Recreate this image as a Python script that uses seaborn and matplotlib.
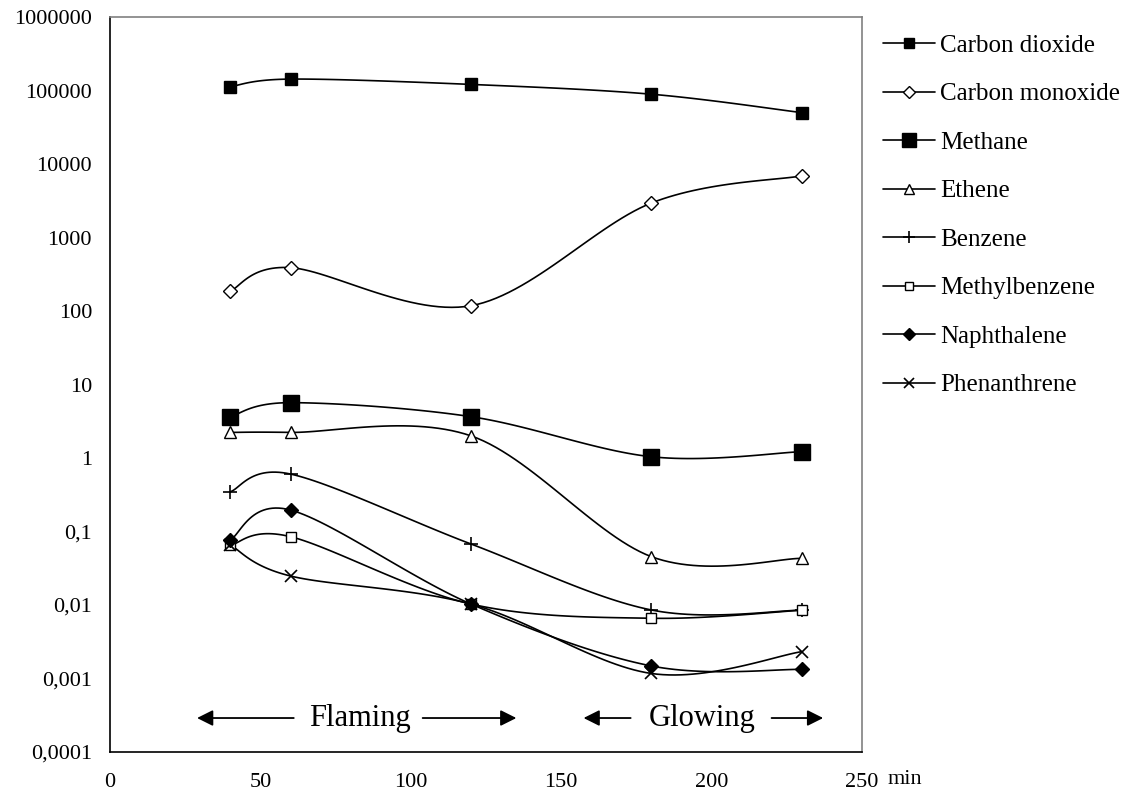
import numpy as np
import pandas as pd
import matplotlib
matplotlib.use('Agg')
import matplotlib.pyplot as plt
from matplotlib.lines import Line2D
from matplotlib.ticker import FixedLocator, FuncFormatter
import seaborn as sns

# 数据：时间 (min) 与各气体浓度
minutes = [40, 60, 120, 180, 230]
carbon_dioxide = [113000, 143000, 121000, 89000, 50000]
carbon_monoxide = [187, 389, 118, 2950, 6900]
methane = [3.65, 5.66, 3.65, 1.04, 1.22]
ethene = [2.23, 2.23, 2.0, 0.0454, 0.0431]
benzene = [0.348, 0.605, 0.0676, 0.00855, 0.0085]
methylbenzene = [0.065, 0.085, 0.0103, 0.0066, 0.0085]
naphthalene = [0.077, 0.196, 0.0103, 0.00148, 0.00133]
phenanthrene = [0.0655, 0.0248, 0.0103, 0.00117, 0.00232]

series_names = ['Carbon dioxide', 'Carbon monoxide', 'Methane', 'Ethene',
                'Benzene', 'Methylbenzene', 'Naphthalene', 'Phenanthrene']
series_values = [carbon_dioxide, carbon_monoxide, methane, ethene,
                 benzene, methylbenzene, naphthalene, phenanthrene]

y_ticks = [1e-4, 1e-3, 1e-2, 1e-1, 1, 10, 100, 1000, 10000, 100000, 1000000]
x_ticks = [0, 50, 100, 150, 200, 250]

# 标记样式 (marker, size, facecolor, edge width)
styles = {
    'Carbon dioxide': ('s', 8, 'black', 1.0),
    'Carbon monoxide': ('D', 7, 'white', 1.0),
    'Methane': ('s', 12, 'black', 1.0),
    'Ethene': ('^', 8, 'white', 1.0),
    'Benzene': ('+', 10, 'black', 1.2),
    'Methylbenzene': ('s', 7, 'white', 1.0),
    'Naphthalene': ('D', 7, 'black', 1.0),
    'Phenanthrene': ('x', 9, 'black', 1.2),
}

sns.set_theme(style='white')
plt.rcParams['font.family'] = ['Liberation Serif', 'DejaVu Serif']
plt.rcParams['text.color'] = 'black'


def smooth_curve(xs, ys, n=30):
    """Excel 风格平滑曲线 (Catmull-Rom, 在 x/log(y) 空间)"""
    px = np.asarray(xs, float)
    py = np.log10(np.asarray(ys, float))
    pts = np.column_stack([px, py])
    pts = np.vstack([pts[0], pts, pts[-1]])
    out = []
    t = np.linspace(0, 1, n)[:, None]
    for i in range(1, len(pts) - 2):
        p0, p1, p2, p3 = pts[i - 1], pts[i], pts[i + 1], pts[i + 2]
        c1 = p1 + (p2 - p0) / 6
        c2 = p2 - (p3 - p1) / 6
        seg = ((1 - t) ** 3) * p1 + 3 * ((1 - t) ** 2) * t * c1 + 3 * (1 - t) * t ** 2 * c2 + t ** 3 * p2
        out.append(seg if i == 1 else seg[1:])
    out = np.vstack(out)
    return out[:, 0], 10 ** out[:, 1]


def fmt_tick(v, pos):
    if v >= 1:
        return '%d' % round(v)
    return ('%.10f' % v).rstrip('0').replace('.', ',')


fig = plt.figure(figsize=(11.31, 7.91), dpi=100)
ax = fig.add_axes([0.0973, 0.0493, 0.6649, 0.9292])

handles = []
for name, vals in zip(series_names, series_values):
    sx, sy = smooth_curve(minutes, vals)
    sns.lineplot(x=sx, y=sy, ax=ax, color='black', linewidth=1.2, sort=False,
                 estimator=None)
    m, ms, fc, mew = styles[name]
    ax.plot(minutes, vals, linestyle='none', marker=m, markersize=ms,
            markerfacecolor=fc, markeredgecolor='black', markeredgewidth=mew,
            zorder=5)
    handles.append(Line2D([0], [0], color='black', linewidth=1.2, marker=m,
                          markersize=ms * 0.85, markerfacecolor=fc,
                          markeredgecolor='black', markeredgewidth=mew))

ax.set_yscale('log')
ax.set_xlim(0, 250)
ax.set_ylim(1e-4, 1e6)
ax.yaxis.set_major_locator(FixedLocator(y_ticks))
ax.yaxis.set_minor_locator(FixedLocator([]))
ax.yaxis.set_major_formatter(FuncFormatter(fmt_tick))
ax.xaxis.set_major_locator(FixedLocator(x_ticks))
ax.xaxis.set_major_formatter(FuncFormatter(lambda v, p: '%d' % v))
ax.set_xlabel('')
ax.set_ylabel('')

for side in ['left', 'bottom']:
    ax.spines[side].set_color('black')
    ax.spines[side].set_linewidth(1.2)
for side in ['top', 'right']:
    ax.spines[side].set_color('#808080')
    ax.spines[side].set_linewidth(1.2)
ax.tick_params(axis='both', which='major', direction='out', length=6, width=1,
               color='black', labelsize=16, labelcolor='black', pad=7)
ax.tick_params(axis='x', pad=9)

# 阶段箭头
arrow_y = 2.9e-4
arr = dict(arrowstyle='-|>', color='black', lw=1.3, mutation_scale=24)
ax.annotate('', xy=(28, arrow_y), xytext=(62, arrow_y), arrowprops=arr)
ax.annotate('', xy=(136, arrow_y), xytext=(103, arrow_y), arrowprops=arr)
ax.annotate('', xy=(156.5, arrow_y), xytext=(174, arrow_y), arrowprops=arr)
ax.annotate('', xy=(238, arrow_y), xytext=(219, arrow_y), arrowprops=arr)
ax.text(83, arrow_y, 'Flaming', ha='center', va='center', fontsize=22)
ax.text(197, arrow_y, 'Glowing', ha='center', va='center', fontsize=22)

fig.text(0.785, 0.014, 'min', fontsize=16, ha='left', va='center')

ax.legend(handles, series_names, loc='upper left', bbox_to_anchor=(1.014, 0.99),
          frameon=False, fontsize=18, handlelength=2.1, handletextpad=0.2,
          labelspacing=1.04, borderaxespad=0)

fig.savefig('out.png', dpi=100)
